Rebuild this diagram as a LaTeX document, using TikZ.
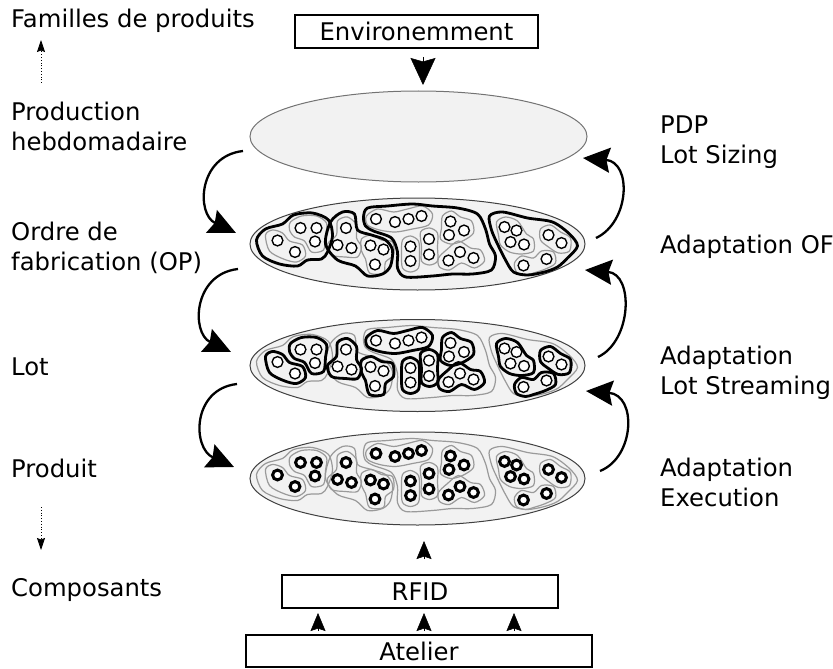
\documentclass[tikz,border=0pt]{standalone}
\usepackage{fontspec}
\setmainfont{DejaVu Sans}
\usetikzlibrary{shapes.geometric,arrows.meta}
\definecolor{ellfill}{HTML}{F2F2F2}
\definecolor{blobgray}{HTML}{9A9A9A}
\tikzset{
  lbl/.style={anchor=base west, inner sep=0pt, font=\fontsize{24.3}{30}\selectfont, align=left},
  box/.style={draw, line width=2pt, fill=white, inner sep=0pt, font=\fontsize{24.3}{30}\selectfont},
  ell/.style={ellipse, fill=ellfill, draw=black!75, line width=1pt, inner sep=0pt},
  bigtip/.style={-{Stealth[length=27pt, width=25pt, inset=3.5pt]}, line width=2.3pt},
  smalltip/.style={-{Stealth[length=18pt, width=15pt, inset=2.5pt]}, line width=0.5pt},
  dottip/.style={dotted, line width=0.8pt, -{Stealth[length=12pt, width=8pt, inset=1.5pt]}},
  thickblob/.style={draw=black, line width=2.8pt, line join=round},
  thinblob/.style={draw=blobgray, line width=1.2pt, line join=round},
  thincirc/.style={draw=black, fill=white, line width=1.4pt},
  boldcirc/.style={draw=black, fill=white, line width=3pt},
}
\newcommand\drawofs[1]{%
  \draw[#1] plot[smooth cycle] coordinates {(-161,-4) (-152,-15) (-135,-20) (-124,-29) (-105,-31) (-89,-24) (-85,-8) (-90,8) (-96,15) (-110,16) (-120,22) (-138,20) (-155,12)};
  \draw[#1] plot[smooth cycle] coordinates {(-92,0) (-87,-22) (-75,-32) (-63,-30) (-60,-14) (-46,-9) (-32,-4) (-25,6) (-27,22) (-35,30) (-50,32) (-62,22) (-80,16)};
  \draw[#1] plot[smooth cycle] coordinates {(-54,-27) (-50,-36) (-30,-38) (-5,-40) (15,-38) (40,-36) (60,-30) (68,-15) (72,0) (78,12) (74,26) (55,30) (35,30) (15,32) (-12,33) (-20,24) (-20,8) (-26,-6) (-44,-13) (-52,-18)};
  \draw[#1] plot[smooth cycle] coordinates {(72,-28) (85,-32) (110,-26) (135,-22) (152,-10) (160,2) (150,14) (140,23) (127,28) (110,31) (96,28) (88,16) (80,0) (74,-14)};
}
\newcommand\drawlots[1]{%
  \draw[#1] plot[smooth cycle] coordinates {(-152,-9) (-145,-14) (-135,-11) (-128,-3) (-115,1) (-112,12) (-121,18) (-134,15) (-148,7)};
  \draw[#1] plot[smooth cycle] coordinates {(-127,-22) (-116,-28) (-101,-28) (-91,-21) (-92,-8) (-94,6) (-106,8) (-113,-3) (-123,-7) (-128,-14)};
  \draw[#1] plot[smooth cycle] coordinates {(-80,-23) (-70,-27) (-61,-19) (-61,-6) (-56,3) (-60,13) (-72,13) (-86,11) (-90,0) (-81,-9)};
  \draw[#1] plot[smooth cycle] coordinates {(-56,-5) (-46,-9) (-36,-4) (-25,-2) (-24,11) (-32,18) (-34,29) (-48,29) (-52,15) (-56,7)};
  \draw[#1] plot[smooth cycle] coordinates {(-51,-28) (-40,-35) (-24,-32) (-10,-35) (5,-38) (15,-30) (11,-19) (-5,-15) (-22,-12) (-38,-14) (-50,-19)};
  \draw[#1] plot[smooth cycle] coordinates {(-15,-4) (-7,-8) (1,-3) (2,10) (1,24) (-7,28) (-15,24) (-16,10)};
  \draw[#1] plot[smooth cycle] coordinates {(3,-12) (12,-16) (20,-11) (20,3) (20,17) (12,21) (4,17) (4,3)};
  \draw[#1] plot[smooth cycle] coordinates {(25,-28) (34,-33) (43,-27) (54,-23) (56,-11) (45,-3) (33,0) (23,-5) (24,-16)};
  \draw[#1] plot[smooth cycle] coordinates {(21,14) (30,5) (41,-3) (53,4) (63,6) (67,17) (57,24) (44,19) (32,26) (22,23)};
  \draw[#1] plot[smooth cycle] coordinates {(79,-22) (88,-27) (100,-23) (109,-10) (116,-5) (116,7) (104,10) (92,8) (83,1) (81,-9)};
  \draw[#1] plot[smooth cycle] coordinates {(123,-15) (133,-19) (143,-12) (153,-6) (152,7) (141,9) (131,3) (123,-4)};
  \draw[#1] plot[smooth cycle] coordinates {(97,19) (104,12) (116,14) (124,7) (136,8) (138,19) (128,25) (116,29) (108,31) (99,28)};
}
\newcommand\drawcircs[2]{%
  \foreach \cx/\cy in {-140/-3.5,-122.5/8,-117/-16,-101/-16,-102.5/-2.5,
    -71.5/-16,-80/1,-66/4,-47/1.5,-34/5.5,-42.5/20.5,
    -41.5/-25,-22.5/-22,-9/-25,4/-28,
    -7/2.5,-7/17,11.5/-5,11.5/10.5,
    33/-22.5,31.5/-9,46.5/-13.5,31/16.5,42.5/8,56/14,
    87/-17,99/-13.5,93/-2,106.5/0.5,106/21.5,129/15,131/-9,144/-1}
    {\draw[#1] (\cx,\cy) circle[radius=#2];}
}
\begin{document}
\begin{tikzpicture}[x=1pt,y=-1pt]
\useasboundingbox (0,0) rectangle (833,669);

% boxes
\node[box, minimum width=243pt, minimum height=33pt] (env) at (416.5,31.5) {Environemment};
\node[box, minimum width=276pt, minimum height=33pt] (rfid) at (420,591.5) {RFID};
\node[box, minimum width=346pt, minimum height=32pt] (atelier) at (419,651) {Atelier};

% ellipses
\node[ell, draw=black!55, minimum width=337pt, minimum height=91pt] (e1) at (418.5,136.5) {};
\node[ell, minimum width=335pt, minimum height=92pt] (e2) at (417.5,244) {};
\node[ell, minimum width=335pt, minimum height=92pt] (e3) at (417.5,365.5) {};
\node[ell, minimum width=335pt, minimum height=93pt] (e4) at (417.5,478.5) {};

% contents of ellipse 2 (OF level)
\begin{scope}[shift={(417.5,244)}]
  \drawlots{thinblob}
  \drawofs{thickblob}
  \drawcircs{thincirc}{5.4pt}
\end{scope}
% contents of ellipse 3 (Lot level)
\begin{scope}[shift={(417.5,365.5)}]
  \drawofs{thinblob}
  \drawlots{thickblob}
  \drawcircs{thincirc}{5.4pt}
\end{scope}
% contents of ellipse 4 (product level)
\begin{scope}[shift={(417.5,478.5)}]
  \drawofs{thinblob}
  \drawlots{thinblob}
  \drawcircs{boldcirc}{4.9pt}
\end{scope}

% left labels (base = baseline of last line)
\node[lbl] (fam) at (11,27.5) {Familles de produits};
\node[lbl] (prodh) at (11,150) {Production\\hebdomadaire};
\node[lbl] (ordre) at (11,270) {Ordre de\\fabrication (OP)};
\node[lbl] (lot) at (11,375) {Lot};
\node[lbl] (produit) at (11,477) {Produit};
\node[lbl] (comp) at (11,596) {Composants};

% right labels
\node[lbl] (pdp) at (660,163) {PDP\\Lot Sizing};
\node[lbl] (adof) at (660,253) {Adaptation OF};
\node[lbl] (adls) at (660,394) {Adaptation\\Lot Streaming};
\node[lbl] (adex) at (660,506) {Adaptation\\Execution};

% arrow end points
\coordinate (envA) at (423,57);
\coordinate (envB) at (423,85);
\coordinate (l1a) at (243,151); \coordinate (l1b) at (236,233);
\coordinate (l2a) at (238,269); \coordinate (l2b) at (231,352);
\coordinate (l3a) at (237,384); \coordinate (l3b) at (234,467);
\coordinate (r1a) at (596,238); \coordinate (r1b) at (583,158);
\coordinate (r2a) at (598,357); \coordinate (r2b) at (585,270);
\coordinate (r3a) at (600,471); \coordinate (r3b) at (586,391);
\coordinate (up1) at (41,83); \coordinate (up2) at (41,40);
\coordinate (dn1) at (41,507); \coordinate (dn2) at (41,550);
\coordinate (b1a) at (318,631); \coordinate (b1b) at (318,613);
\coordinate (b2a) at (424,631); \coordinate (b2b) at (424,613);
\coordinate (b3a) at (514,631); \coordinate (b3b) at (514,613);
\coordinate (ra) at (424,559); \coordinate (rb) at (424,541);

% arrows
\draw[bigtip, line width=0.5pt] (envA) -- (envB);
\draw[bigtip] (l1a) .. controls (198,156) and (196,214) .. (l1b);
\draw[bigtip] (l2a) .. controls (193,274) and (191,333) .. (l2b);
\draw[bigtip] (l3a) .. controls (192,389) and (192,448) .. (l3b);
\draw[bigtip] (r1a) .. controls (630,222) and (632,162) .. (r1b);
\draw[bigtip] (r2a) .. controls (632,341) and (634,274) .. (r2b);
\draw[bigtip] (r3a) .. controls (635,457) and (637,395) .. (r3b);
\draw[dottip] (up1) -- (up2);
\draw[dottip] (dn1) -- (dn2);
\draw[smalltip] (b1a) -- (b1b);
\draw[smalltip] (b2a) -- (b2b);
\draw[smalltip] (b3a) -- (b3b);
\draw[smalltip] (ra) -- (rb);
\end{tikzpicture}
\end{document}
